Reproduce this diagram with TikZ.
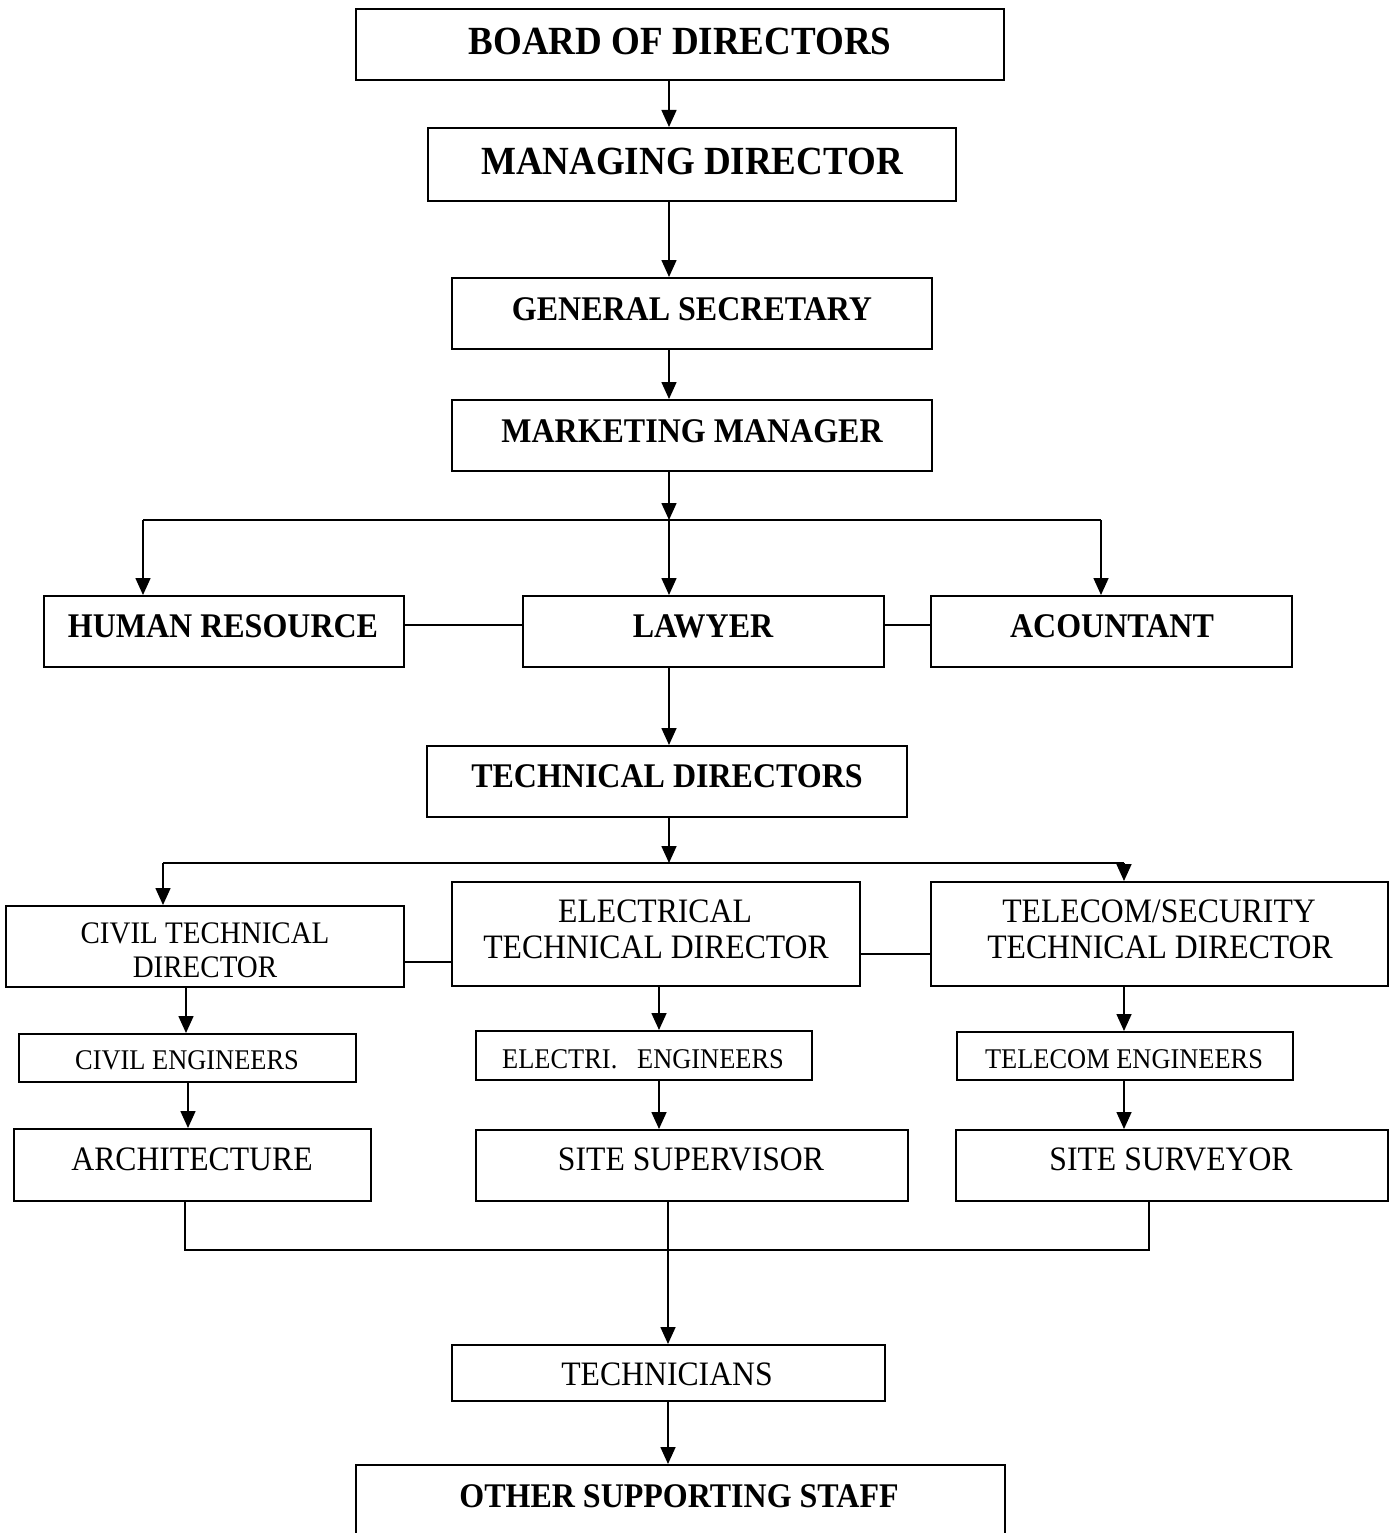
\documentclass[tikz,border=0pt]{standalone}
\usepackage{graphicx}
\usepackage{fontspec}
\setmainfont{Liberation Serif}
\usetikzlibrary{arrows.meta}
\tikzset{
  box/.style={draw, line width=2pt, rectangle, inner sep=0pt},
  conn/.style={line width=1.6pt},
  arr/.style={conn, -{Triangle[length=17pt,width=15pt]}},
  bigb/.style={anchor=base, inner sep=0pt, font=\fontsize{37}{40}\selectfont\bfseries},
  medb/.style={anchor=base, inner sep=0pt, font=\fontsize{32}{36}\selectfont\bfseries},
  reg/.style={anchor=base, inner sep=0pt, font=\fontsize{31.7}{36}\selectfont},
  civ/.style={anchor=base, inner sep=0pt, font=\fontsize{29}{34}\selectfont},
  eng/.style={anchor=base, inner sep=0pt, font=\fontsize{26.4}{30}\selectfont},
}
\newcommand\st[1]{\scalebox{1}[1.08]{#1}}
\newcommand\bx[5]{\node[box, minimum width={(#4-#2)*1pt}, minimum height={(#5-#3)*1pt}] (#1) at ({(#2+#4)/2},{(#3+#5)/2}) {};}
\begin{document}
\begin{tikzpicture}[x=1pt,y=-1pt]
\clip (0,0) rectangle (1389,1533);
\fill[white] (0,0) rectangle (1389,1533);
% boxes
\bx{bod}{356}{9}{1004}{80}
\bx{md}{428}{128}{956}{201}
\bx{gs}{452}{278}{932}{349}
\bx{mm}{452}{400}{932}{471}
\bx{hr}{44}{596}{404}{667}
\bx{law}{523}{596}{884}{667}
\bx{acc}{931}{596}{1292}{667}
\bx{td}{427}{746}{907}{817}
\bx{ctd}{6}{906}{404}{987}
\bx{etd}{452}{882}{860}{986}
\bx{ttd}{931}{882}{1388}{986}
\bx{ce}{19}{1034}{356}{1082}
\bx{ee}{476}{1031}{812}{1080}
\bx{te}{957}{1032}{1293}{1080}
\bx{arch}{14}{1129}{371}{1201}
\bx{ss}{476}{1130}{908}{1201}
\bx{sv}{956}{1130}{1388}{1201}
\bx{tech}{452}{1345}{885}{1401}
\bx{oth}{356}{1465}{1005}{1545}
% texts
\node[bigb] (bodt) at (680,55) {\st{BOARD OF DIRECTORS}};
\node[bigb] (mdt) at (692,175) {\st{MANAGING DIRECTOR}};
\node[medb] (gst) at (692,320) {\st{GENERAL SECRETARY}};
\node[medb] (mmt) at (692,442) {\st{MARKETING MANAGER}};
\node[medb] (hrt) at (223,637) {\st{HUMAN RESOURCE}};
\node[medb] (lawt) at (703,637) {\st{LAWYER}};
\node[medb] (acct) at (1112,637) {\st{ACOUNTANT}};
\node[medb] (tdt) at (667,787) {\st{TECHNICAL DIRECTORS}};
\node[civ] (ctda) at (205,943) {\st{CIVIL TECHNICAL}};
\node[civ] (ctdb) at (205,977) {\st{DIRECTOR}};
\node[reg] (etda) at (655,922) {\st{ELECTRICAL}};
\node[reg] (etdb) at (656,958) {\st{TECHNICAL DIRECTOR}};
\node[reg] (ttda) at (1159,922) {\st{TELECOM/SECURITY}};
\node[reg] (ttdb) at (1160,958) {\st{TECHNICAL DIRECTOR}};
\node[eng] (cet) at (187,1069) {\st{CIVIL ENGINEERS}};
\node[eng] (eet) at (643,1068) {\st{ELECTRI.\ \ \ ENGINEERS}};
\node[eng] (tet) at (1124,1068) {\st{TELECOM ENGINEERS}};
\node[reg] (archt) at (192,1170) {\st{ARCHITECTURE}};
\node[reg] (sst) at (691,1170) {\st{SITE SUPERVISOR}};
\node[reg] (svt) at (1171,1170) {\st{SITE SURVEYOR}};
\node[reg] (techt) at (667,1385) {\st{TECHNICIANS}};
\node[medb] (otht) at (679,1507) {\st{OTHER SUPPORTING STAFF}};
% coordinates
\coordinate (sp) at (669,0);
\coordinate (j1) at (669,520);
\coordinate (j1l) at (143,520);
\coordinate (j1r) at (1101,520);
\coordinate (j2) at (669,863);
\coordinate (j2l) at (163,863);
\coordinate (j2r) at (1124,863);
\coordinate (cx1) at (186,0);
\coordinate (cx2) at (188,0);
\coordinate (ex) at (659,0);
\coordinate (tx) at (1124,0);
\coordinate (j3) at (668,1250);
\coordinate (j3l) at (185,1250);
\coordinate (j3r) at (1149,1250);
% connectors
\draw[arr] (bod.south -| sp) -- (md.north -| sp);
\draw[arr] (md.south -| sp) -- (gs.north -| sp);
\draw[arr] (gs.south -| sp) -- (mm.north -| sp);
\draw[arr] (mm.south -| sp) -- (j1);
\draw[arr] (j1) -- (law.north -| sp);
\draw[conn] (j1l) -- (j1r);
\draw[arr] (j1l) -- (hr.north -| j1l);
\draw[arr] (j1r) -- (acc.north -| j1r);
\draw[conn] (hr.east |- 0,625) -- (law.west |- 0,625);
\draw[conn] (law.east |- 0,625) -- (acc.west |- 0,625);
\draw[arr] (law.south -| sp) -- (td.north -| sp);
\draw[arr] (td.south -| sp) -- (j2);
\draw[conn] (j2l) -- (j2r);
\draw[arr] (j2l) -- (ctd.north -| j2l);
\draw[arr] (j2r) -- (ttd.north -| j2r);
\draw[conn] (ctd.east |- 0,962) -- (etd.west |- 0,962);
\draw[conn] (etd.east |- 0,954) -- (ttd.west |- 0,954);
\draw[arr] (ctd.south -| cx1) -- (ce.north -| cx1);
\draw[arr] (ce.south -| cx2) -- (arch.north -| cx2);
\draw[arr] (etd.south -| ex) -- (ee.north -| ex);
\draw[arr] (ee.south -| ex) -- (ss.north -| ex);
\draw[arr] (ttd.south -| tx) -- (te.north -| tx);
\draw[arr] (te.south -| tx) -- (sv.north -| tx);
\draw[conn] (arch.south -| j3l) -- (j3l) -- (j3r) -- (sv.south -| j3r);
\draw[conn] (ss.south -| j3) -- (j3);
\draw[arr] (j3) -- (tech.north -| j3);
\draw[arr] (tech.south -| j3) -- (oth.north -| j3);
\end{tikzpicture}
\end{document}
